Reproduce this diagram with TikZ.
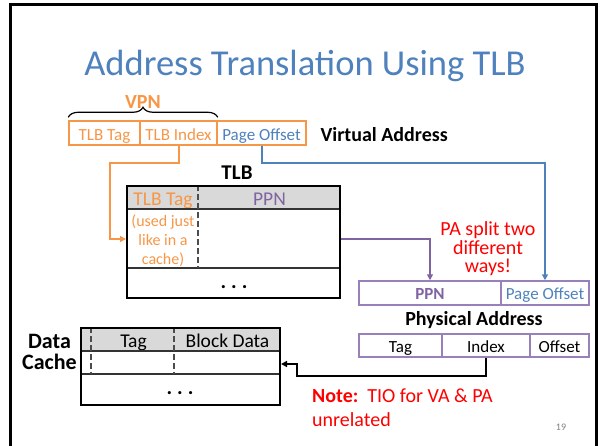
\documentclass[tikz,border=0pt]{standalone}
\usepackage{fontspec}
\setmainfont{Carlito}
\usetikzlibrary{arrows.meta,decorations.pathreplacing,calc}

\definecolor{vaorange}{RGB}{247,150,70}
\definecolor{ofsblue}{RGB}{79,129,189}
\definecolor{ppnpurple}{RGB}{128,100,162}
\definecolor{paframe}{RGB}{152,128,186}
\definecolor{hdrgray}{RGB}{217,217,217}
\definecolor{notered}{RGB}{255,0,0}

\begin{document}
\begin{tikzpicture}[x=1pt,y=-1pt,
  cellfont/.style={font=\fontsize{17}{19}\selectfont},
  hdrfont/.style={font=\fontsize{19.5}{21}\selectfont},
  labelfont/.style={font=\fontsize{20}{21}\selectfont\bfseries},
  vacell/.style={draw=vaorange, line width=1.5pt, minimum height=24pt, inner sep=0pt,
                 text height=15pt, text depth=0pt, cellfont, text=vaorange},
  pacell/.style={draw=paframe, line width=1.5pt, minimum height=24pt, inner sep=0pt,
                 text height=13pt, text depth=0pt, cellfont},
  hdrcell/.style={fill=hdrgray, minimum height=24pt, inner sep=0pt,
                  text height=15pt, text depth=0pt, hdrfont},
  tablebox/.style={draw=black, line width=2pt, inner sep=0pt},
  rowline/.style={line width=1.2pt, draw=black!80},
  colsplit/.style={line width=1.3pt, draw=black!70, dash pattern=on 6pt off 3pt},
  link/.style={line width=2pt, -{Triangle[length=6pt,width=6pt]}},
  dotrow/.style={font=\fontsize{21}{22}\selectfont\bfseries, anchor=base},
]
\useasboundingbox (0,0) rectangle (602,445);

% slide frame
\draw[line width=3pt] (10,4) rectangle (596,470);

% title
\node[font=\fontsize{36.5}{44}\selectfont, text=ofsblue, anchor=base] (title) at (305,75)
  {Address Translation Using TLB};

% ---------- virtual address ----------
\node[vacell, minimum width=71pt] (vtag) at (104.5,133) {TLB Tag};
\node[vacell, minimum width=77pt] (vidx) at (178.5,133) {TLB Index};
\node[vacell, minimum width=89pt, text=ofsblue] (voff) at (261.5,133) {Page Offset};
\node[labelfont, anchor=base west] (valabel) at (317,141) {Virtual Address};

\draw[decorate, decoration={brace, amplitude=10pt}, line width=1.2pt]
  ([yshift=3pt]vtag.north west) -- ([yshift=3pt]vidx.north east);
\node[labelfont, text=vaorange, anchor=base] (vpn) at (143,108) {VPN};

% ---------- TLB ----------
\node[font=\fontsize{21}{22}\selectfont\bfseries, anchor=base] (tlblabel) at (237,179) {TLB};
\node[hdrcell, minimum width=72pt, text=vaorange] (tlbtag) at (163,198) {TLB Tag};
\node[hdrcell, minimum width=141pt, text=ppnpurple] (tlbppn) at (269.5,198) {PPN};
\node[tablebox, minimum width=213pt, minimum height=112pt] (tlb) at (233.5,242) {};
\draw[rowline] ($(tlb.north west)+(0,24)$) -- ($(tlb.north east)+(0,24)$);
\draw[rowline] ($(tlb.north west)+(0,83)$) -- ($(tlb.north east)+(0,83)$);
\draw[colsplit] ($(tlb.north west)+(72,0)$) -- ($(tlb.north west)+(72,83)$);
\node[tablebox, minimum width=213pt, minimum height=112pt] at (tlb) {};
\node[font=\fontsize{16}{19}\selectfont, text=vaorange, align=center] (tlbnote) at (163,241)
  {(used just\\like in a\\cache)};
\node[dotrow] (tlbdots) at (234,288) {.\hskip5pt.\hskip5pt.};

% ---------- physical address ----------
\node[pacell, minimum width=142pt, text=ppnpurple, font=\fontsize{17}{19}\selectfont\bfseries] (pappn) at (430,293) {PPN};
\node[pacell, minimum width=88pt, text=ofsblue] (papo) at (545,293) {Page Offset};
\node[labelfont, anchor=base] (palabel) at (474,325) {Physical Address};
\node[pacell, minimum height=23pt, minimum width=83pt] (patag) at (400.5,345.5) {Tag};
\node[pacell, minimum height=23pt, minimum width=88pt] (paidx) at (486,345.5) {Index};
\node[pacell, minimum height=23pt, minimum width=59pt] (paofs) at (559.5,345.5) {Offset};

\node[text=notered, font=\fontsize{20}{18.5}\selectfont, align=center] (split) at (488,249)
  {PA split two\\different\\ways!};

% ---------- data cache ----------
\node[hdrcell, minimum width=11pt] (dcvalid) at (86.5,340) {};
\node[hdrcell, minimum width=83pt] (dctag) at (133.5,340) {Tag};
\node[hdrcell, minimum width=105pt] (dcdata) at (227.5,340) {Block Data};
\node[tablebox, minimum width=199pt, minimum height=77pt] (dc) at (180.5,366.5) {};
\draw[rowline] ($(dc.north west)+(0,24)$) -- ($(dc.north east)+(0,24)$);
\draw[rowline] ($(dc.north west)+(0,47)$) -- ($(dc.north east)+(0,47)$);
\draw[colsplit] ($(dc.north west)+(11,0)$) -- ($(dc.north west)+(11,47)$);
\draw[colsplit] ($(dc.north west)+(94,0)$) -- ($(dc.north west)+(94,47)$);
\node[tablebox, minimum width=199pt, minimum height=77pt] at (dc) {};
\node[dotrow] (dcdots) at (180,394) {.\hskip5pt.\hskip5pt.};
\node[font=\fontsize{22}{20.5}\selectfont\bfseries, align=center] (dclabel) at (49.5,352) {Data\\Cache};

% ---------- note ----------
\node[text=notered, font=\fontsize{20}{24}\selectfont, align=left, anchor=north west, inner sep=0pt]
  (note) at (312,389) {\textbf{Note:}\ \ TIO for VA \& PA\\unrelated};
\node[font=\fontsize{10}{12}\selectfont, text=black!50, anchor=base] (pagenum) at (561,430) {19};

% ---------- connectors ----------
\coordinate (hrail) at (0,163);
\coordinate (tlbrow) at (0,239);
\coordinate (obend) at (110,163);
\coordinate (brail) at (297,376);
\coordinate (dcrow) at (0,364);

\draw[link, color=vaorange] (vidx.south) -- (vidx.south |- hrail) -- (obend)
  -- (obend |- tlbrow) -- (tlb.west |- tlbrow);
\draw[link, color=ofsblue] (voff.south) |- (papo.north |- hrail) -- (papo.north);
\draw[link, color=ppnpurple] (tlb.east |- tlbrow) -| (pappn.north);
\draw[link, line width=2.5pt] (paidx.south) |- (brail) |- (dc.east |- dcrow);
\end{tikzpicture}
\end{document}
